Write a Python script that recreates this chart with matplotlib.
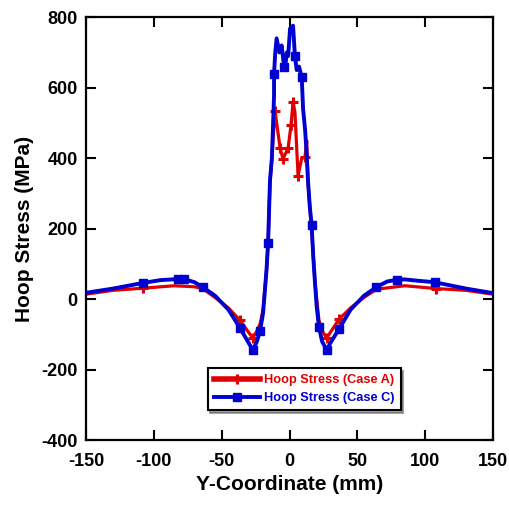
import matplotlib
matplotlib.use("Agg")
import matplotlib.pyplot as plt

plt.rcParams['font.family'] = ['Liberation Sans', 'DejaVu Sans']
plt.rcParams['font.weight'] = 'bold'
plt.rcParams['axes.unicode_minus'] = False

# Case C (blue)
xc = [-150, -130, -108, -95, -82, -78, -70, -64, -55, -45, -36.5, -30, -27, -24, -21.7,
      -19.5, -17, -15.8, -14.4, -13, -12.4, -11.4, -11.4, -10.5, -9.5, -7.5, -5.8, -4,
      -3.3, -2, -1, 0.4, 2.6, 4, 5.3, 7, 9, 10, 11.5, 12.5, 13.6, 15, 16.3, 17.5, 18.8,
      20, 21.7, 24, 27.5, 30, 36.5, 45, 55, 64, 72, 79, 85, 95, 107, 130, 150]
yc = [18, 30, 46, 54, 57, 57, 48, 34, 10, -30, -82, -125, -145, -120, -90,
      -40, 80, 159, 337, 400, 465, 578, 640, 700, 740, 700, 720, 660,
      655, 700, 690, 768, 776, 690, 650, 660, 630, 540, 480, 420, 337, 260, 210, 120, 45,
      -20, -79, -120, -145, -125, -85, -30, 10, 34, 50, 55, 56, 52, 48, 30, 17]
mark_c = [2, 4, 5, 7, 10, 12, 14, 17, 22, 27, 33, 36, 42, 46, 48, 50, 53, 55, 58]

# Case A (red)
xa = [-150, -130, -108, -85, -70, -64, -55, -45, -36.5, -30, -27, -24, -21.7, -19.5,
      -17, -15.8, -14.4, -13, -12, -10.7, -7, -4.8, -1, 1.1, 2.6, 4, 6.3, 9, 11.4, 12.7,
      13.6, 15, 16.3, 18.8, 21.7, 24, 27.4, 30, 36.5, 45, 55, 64, 85, 108, 130, 150]
ya = [14, 25, 31, 38, 35, 30, 5, -25, -60, -95, -110, -90, -70, -30,
      80, 159, 330, 400, 460, 535, 430, 398, 430, 493, 560, 530, 350, 400, 402, 450,
      330, 260, 200, 45, -60, -90, -110, -95, -57, -25, 5, 28, 38, 30, 25, 14]
mark_a = [2, 8, 10, 19, 20, 21, 22, 23, 24, 26, 28, 36, 38, 43]

xticks = [-150, -100, -50, 0, 50, 100, 150]
yticks = [-400, -200, 0, 200, 400, 600, 800]

fig = plt.figure(figsize=(5.09, 5.07), dpi=100)
ax = fig.add_axes([0.169, 0.132, 0.7996, 0.834])

ax.plot(xa, ya, color='#e00000', lw=2.3, marker='+', ms=7, mew=2.2,
        markevery=mark_a, label='Hoop Stress (Case A)', zorder=2)
ax.plot(xc, yc, color='#0000d0', lw=2.8, marker='s', ms=5.5,
        markevery=mark_c, label='Hoop Stress (Case C)', zorder=3)

ax.set_xlim(-150, 150)
ax.set_ylim(-400, 800)
ax.set_xticks(xticks)
ax.set_yticks(yticks)
ax.tick_params(direction='in', length=7, width=1.5, top=True, right=True,
               labelsize=13)
ax.tick_params(axis='x', pad=9)
ax.tick_params(axis='y', pad=6)
for lab in ax.get_xticklabels() + ax.get_yticklabels():
    lab.set_fontweight('bold')
for s in ax.spines.values():
    s.set_linewidth(1.6)

ax.set_xlabel('Y-Coordinate (mm)', fontsize=15, fontweight='bold', labelpad=4)
ax.set_ylabel('Hoop Stress (MPa)', fontsize=15, fontweight='bold', labelpad=5)

leg = ax.legend(loc='lower left', bbox_to_anchor=(0.283, 0.055),
                frameon=True, fancybox=False, shadow=True, borderpad=0.5,
                handlelength=3.6, handletextpad=0.3, labelspacing=0.45,
                prop={'weight': 'bold', 'size': 9.2})
leg.get_frame().set_edgecolor('black')
leg.get_frame().set_linewidth(1.5)
for t, c in zip(leg.get_texts(), ['#e00000', '#0000d0']):
    t.set_color(c)
lines = leg.get_lines()
lines[0].set_linewidth(4)

fig.savefig('out.png', dpi=100)
